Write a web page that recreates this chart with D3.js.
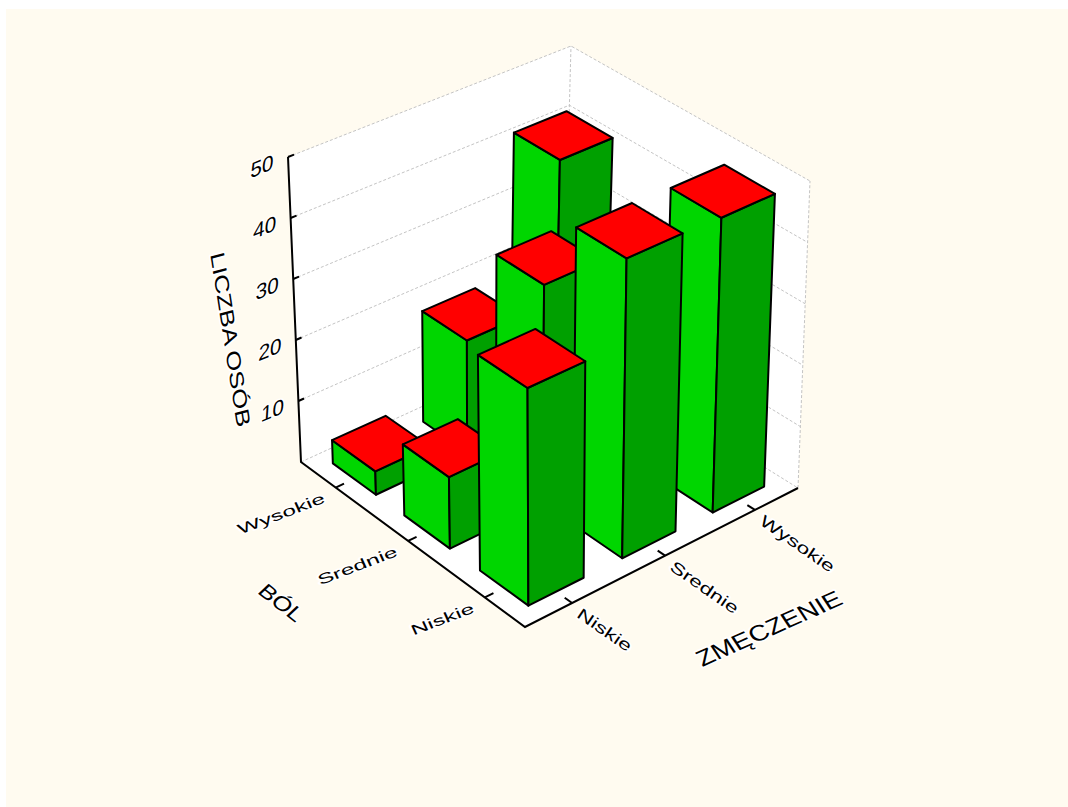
<!DOCTYPE html>
<html lang='en'>
<head>
<meta charset='UTF-8'>
<script src='https://d3js.org/d3.v7.min.js'></script>
<style>
  html,body{margin:0;padding:0;background:#fff;}
  text{font-family:'Liberation Sans',sans-serif;fill:#000;stroke:#fff;stroke-width:2.5px;paint-order:stroke;stroke-linejoin:round;}
</style>
</head>
<body>
<script>
// categories and counts (rows follow bolLevels, columns follow zmeczenieLevels)
var zmeczenieLevels = ['Niskie','Srednie','Wysokie'];
var bolLevels = ['Niskie','Srednie','Wysokie'];
var countsNiskie = [34.5,48,47.7];
var countsSrednie = [11.5,35.5,25];
var countsWysokie = [3.8,18.3,41.6];
var zTicks = [0,10,20,30,40,50];

var counts = [countsNiskie,countsSrednie,countsWysokie];

var width = 1068, height = 807;
var svg = d3.select('body').append('svg').attr('width',width).attr('height',height).style('display','block');

svg.append('rect').attr('x',6).attr('y',9).attr('width',width-6).attr('height',height-9).attr('fill','#fffbf0');

var uScale = d3.scaleBand().domain(zmeczenieLevels).range([0,1]).paddingInner(0.415).paddingOuter(0.2);
var vScale = d3.scaleBand().domain(bolLevels).range([0,1]).paddingInner(0.39).paddingOuter(0.195);
var zScale = d3.scaleLinear().domain([0,50]).range([0,1]);

// maps the unit square onto a screen quadrilateral, keeps the foreshortening of the box
function quadMap(p0,p1,p2,p3){
  var sx=p0[0]-p1[0]+p2[0]-p3[0], sy=p0[1]-p1[1]+p2[1]-p3[1];
  var dx1=p1[0]-p2[0], dx2=p3[0]-p2[0], dy1=p1[1]-p2[1], dy2=p3[1]-p2[1];
  var den=dx1*dy2-dx2*dy1;
  var g=(sx*dy2-dx2*sy)/den, h=(dx1*sy-sx*dy1)/den;
  var a=p1[0]-p0[0]+g*p1[0], b=p3[0]-p0[0]+h*p3[0];
  var d=p1[1]-p0[1]+g*p1[1], e=p3[1]-p0[1]+h*p3[1];
  return function(u,v){
    var w=g*u+h*v+1;
    return [(a*u+b*v+p0[0])/w,(d*u+e*v+p0[1])/w];
  };
}

var floorMap = quadMap([525,627],[798,488],[563,342],[301,462]);
var roofMap = quadMap([523,310],[810,181],[571,46],[288,157]);

function project(u,v,z){
  var f=floorMap(u,v), r=roofMap(u,v), t=zScale(z);
  return [f[0]+(r[0]-f[0])*t, f[1]+(r[1]-f[1])*t];
}

var line = d3.line();

// white walls and floor
svg.append('path')
  .attr('d',line([project(0,1,0),project(0,0,0),project(1,0,0),project(1,0,50),project(1,1,50),project(0,1,50)])+'Z')
  .attr('fill','#fff');

// dashed grid on both back walls
var grid = svg.append('g').attr('fill','none').attr('stroke','#c4c4c4').attr('stroke-width',1).attr('stroke-dasharray','3,2');
zTicks.slice(1).forEach(function(t){
  grid.append('path').attr('d',line([project(0,1,t),project(1,1,t),project(1,0,t)]));
});
grid.append('path').attr('d',line([project(1,1,0),project(1,1,50)]));
grid.append('path').attr('d',line([project(1,0,0),project(1,0,50)]));
grid.append('path').attr('d',line([project(0,1,0),project(1,1,0),project(1,0,0)]));

// axes and tick marks
var axes = svg.append('g').attr('fill','none').attr('stroke','#000').attr('stroke-width',2);
axes.append('path').attr('d',line([project(0,1,50),project(0,1,0),project(0,0,0),project(1,0,0)]));
zTicks.slice(1).forEach(function(t){
  axes.append('path').attr('d',line([project(0,1,t),project(0.02,1,t)]));
});
zmeczenieLevels.forEach(function(c){
  var u=uScale(c)+uScale.bandwidth()/2;
  axes.append('path').attr('d',line([project(u,0,0),project(u,0.03,0)]));
});
bolLevels.forEach(function(c){
  var v=vScale(c)+vScale.bandwidth()/2;
  axes.append('path').attr('d',line([project(0,v,0),project(0.03,v,0)]));
});

// bars, painted from the far corner forward
var cells = [];
bolLevels.forEach(function(b,i){
  zmeczenieLevels.forEach(function(z,j){
    cells.push({bol:b,zm:z,value:counts[i][j],order:i+j});
  });
});
cells.sort(function(a,b){return b.order-a.order;});

var bars = svg.selectAll('g.bar').data(cells).enter().append('g').attr('class','bar')
  .attr('stroke','#000').attr('stroke-width',2).attr('stroke-linejoin','round');

bars.each(function(d){
  var u0=uScale(d.zm), u1=u0+uScale.bandwidth();
  var v0=vScale(d.bol), v1=v0+vScale.bandwidth();
  var g=d3.select(this);
  g.append('path').attr('fill','#00d600')
    .attr('d',line([project(u0,v0,0),project(u0,v1,0),project(u0,v1,d.value),project(u0,v0,d.value)])+'Z');
  g.append('path').attr('fill','#00a000')
    .attr('d',line([project(u0,v0,0),project(u1,v0,0),project(u1,v0,d.value),project(u0,v0,d.value)])+'Z');
  g.append('path').attr('fill','#ff0000')
    .attr('d',line([project(u0,v0,d.value),project(u1,v0,d.value),project(u1,v1,d.value),project(u0,v1,d.value)])+'Z');
});

// text lies on skewed planes, so each label gets its own matrix
function skewText(str,x,y,size,ax,ay,cx,cy,anchor){
  svg.append('text')
    .attr('transform','matrix('+[ax,ay,cx,cy,x,y].join(',')+')')
    .attr('font-size',size)
    .attr('text-anchor',anchor)
    .attr('dominant-baseline','middle')
    .text(str);
}

zTicks.slice(1).forEach(function(t){
  var p=project(0,1,t);
  skewText(String(t),p[0]-26,p[1]+11,18,1.15,-0.48,-0.08,1.2,'middle');
});
zmeczenieLevels.forEach(function(c){
  var p=project(uScale(c)+uScale.bandwidth()/2,0,0);
  skewText(c,p[0]+6,p[1]+10,12,1.58,1.1,-0.75,1.1,'start');
});
bolLevels.forEach(function(c){
  var p=project(0,vScale(c)+vScale.bandwidth()/2,0);
  skewText(c,p[0]-11,p[1]+11,12,1.9,-0.72,0.5,1.1,'end');
});
skewText('LICZBA OSÓB',229,340,17,0.24,1.55,-1.15,0.3,'middle');
skewText('BÓL',280,604,17,1.15,0.9,-0.9,0.85,'middle');
skewText('ZMĘCZENIE',770,630,17,1.45,-0.65,0.75,1.15,'middle');
</script>
</body>
</html>
